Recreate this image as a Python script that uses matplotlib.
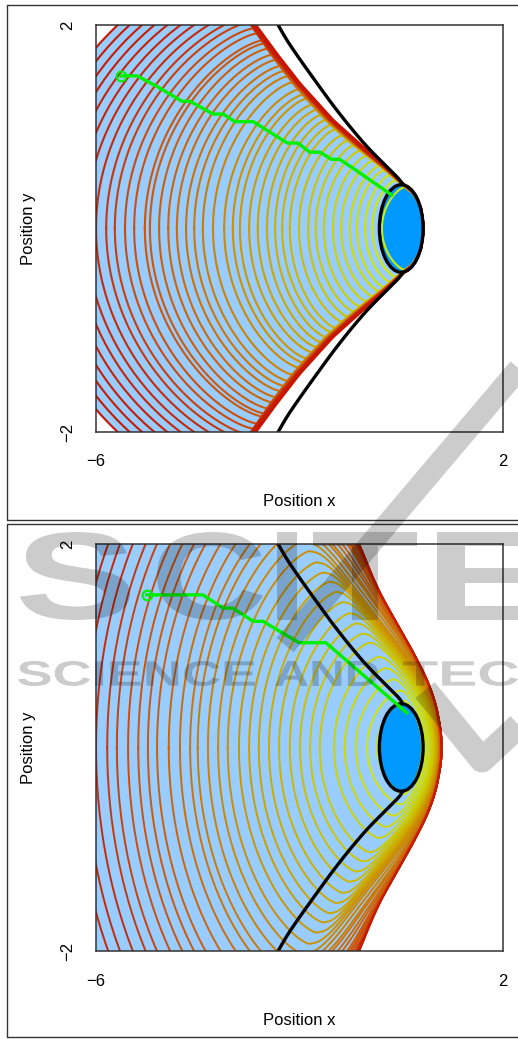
import numpy as np
import matplotlib
matplotlib.use("Agg")
import matplotlib.pyplot as plt
from matplotlib.colors import LinearSegmentedColormap
from matplotlib.patches import Ellipse, PathPatch
from matplotlib.textpath import TextPath
from matplotlib.font_manager import FontProperties
from matplotlib.transforms import Affine2D

plt.rcParams['font.family'] = ['Liberation Sans', 'DejaVu Sans']

# ---- Values (data units) ----
# Each level curve is described by: where it crosses y=0 on the left (x0),
# the height of its crest (yp) and, in the lower panel, crest x and right crossing.
# The stretch between those read points follows a fitted arc, not traced pixels.
TOP_X0 = [-7.38,-7.18,-6.98,-6.79,-6.59,-6.39,-6.20,-6.00,-5.80,-5.63,-5.43,-5.25,-5.04,-4.94,-4.76,-4.58,-4.41,-4.23,-4.07,-3.90,
          -3.70,-3.48,-3.31,-3.17,-2.99,-2.82,-2.64,-2.48,-2.34,-2.19,-2.01,-1.83,-1.68,-1.52,-1.34,-1.18,-1.01,-0.87,-0.71,-0.57,-0.38]
TOP_YP = [2.56,2.50,2.44,2.38,2.32,2.26,2.20,2.14,2.08,2.03,1.97,1.92,1.85,1.82,1.77,1.71,1.66,1.60,1.55,1.50,
          1.44,1.37,1.32,1.28,1.22,1.17,1.12,1.07,1.02,0.98,0.92,0.87,0.82,0.77,0.72,0.67,0.62,0.58,0.53,0.48,0.41]
TOP_ENV_Y = [0.00,0.20,0.35,0.43,0.60,0.77,1.07,1.43,1.72,2.00,2.50,2.60]
TOP_ENV_X = [0.45,0.39,0.26,0.07,-0.28,-0.67,-1.34,-1.99,-2.44,-2.84,-3.55,-3.70]

BOT_X0 = [-6.90,-6.67,-6.43,-6.22,-6.00,-5.78,-5.59,-5.37,-5.17,-4.98,-4.80,-4.57,-4.35,-4.15,-4.00,-3.80,
          -3.60,-3.41,-3.19,-2.99,-2.80,-2.60,-2.40,-2.19,-1.99,-1.79,-1.60,-1.32,-1.11,-0.89,-0.67,-0.47]
BOT_YP = [3.68,3.56,3.44,3.34,3.23,3.12,3.02,2.91,2.81,2.72,2.63,2.51,2.40,2.30,2.23,2.13,
          2.03,1.93,1.82,1.72,1.63,1.53,1.43,1.32,1.22,1.12,1.03,0.89,0.78,0.67,0.56,0.46]
BOT_XP = [-4.07,-3.92,-3.76,-3.63,-3.48,-3.34,-3.22,-3.08,-2.95,-2.82,-2.70,-2.56,-2.41,-2.28,-2.18,-2.05,
          -1.92,-1.80,-1.66,-1.53,-1.40,-1.27,-1.14,-1.01,-0.88,-0.75,-0.62,-0.44,-0.31,-0.16,-0.02,0.05]
BOT_XR = [0.82,0.82,0.82,0.82,0.82,0.82,0.82,0.82,0.81,0.81,0.81,0.80,0.80,0.79,0.79,0.78,
          0.78,0.77,0.76,0.75,0.74,0.73,0.72,0.71,0.70,0.68,0.66,0.64,0.61,0.57,0.53,0.47]
BOT_ENV_Y = [0.00,0.25,0.55,0.75,1.08,1.33,1.65,2.00,2.50,3.00,3.70]
BOT_ENV_X = [0.82,0.76,0.62,0.43,0.08,-0.22,-0.555,-0.81,-1.30,-1.80,-2.50]

BARRIER_Y = [0.43,0.575,0.80,1.00,1.21,1.43,1.66,1.85,2.00]
BARRIER_X = [0.07,-0.22,-0.67,-1.01,-1.34,-1.66,-1.99,-2.25,-2.42]

TOP_PATH_X = [-5.51,-5.19,-4.78,-4.31,-4.15,-3.70,-3.50,-3.27,-2.91,-2.24,-2.03,-1.80,-1.60,-1.37,-1.21,-0.955,-0.19]
TOP_PATH_Y = [1.50,1.50,1.39,1.25,1.25,1.125,1.125,1.05,1.05,0.84,0.84,0.75,0.75,0.68,0.68,0.595,0.33]
BOT_PATH_X = [-5.00,-3.90,-3.50,-3.31,-2.91,-2.72,-2.01,-1.48,0.11]
BOT_PATH_Y = [1.50,1.50,1.37,1.37,1.24,1.24,1.03,1.03,0.34]

COLOR_AT_X0 = [-7.4,-6.0,-5.4,-4.6,-3.2,-1.7,-0.4]
COLOR_RGB = ['#c81400','#c42c08','#cc4c0a','#cc640a','#cc9600','#ccc800','#d2ec00']

LIGHT_BLUE = '#99ccff'
TARGET_BLUE = '#0099ff'
GREEN = '#00ee00'
TARGET_R = 0.43
XLIM = (-6, 2)
YLIM = (-2, 2)

W, H = 518, 1039
FS = 12
fig = plt.figure(figsize=(W/100, H/100), dpi=100)

span = COLOR_AT_X0[-1]-COLOR_AT_X0[0]
cmap = LinearSegmentedColormap.from_list('lv', [((v-COLOR_AT_X0[0])/span, c) for v, c in zip(COLOR_AT_X0, COLOR_RGB)])
def col(x0):
    return cmap(np.clip((x0-COLOR_AT_X0[0])/span, 0, 1))

def smooth_env(ys, xs, win):
    g = np.linspace(0, ys[-1], 801)
    v = np.interp(g, ys, xs)
    m = int(win/(g[1]-g[0]))
    pad = np.r_[v[m:0:-1], v, 2*v[-1]-v[-2:-m-2:-1]]
    s = np.convolve(pad, np.ones(2*m+1)/(2*m+1), mode='same')[m:m+len(v)]
    return lambda y: np.interp(y, g, s)

def closed(x0, xp, yp, right, k, p=1.4):
    t = np.linspace(0, np.pi/2, 70)
    xl, yl = xp-(xp-x0)*np.cos(t)**p, yp*np.sin(t)
    yr = np.linspace(yp, 0, 120)
    xr = xp+(right(yr)-xp)*np.sqrt(np.clip(1-(yr/yp)**k, 0, 1))
    x = np.r_[xl, xr]; y = np.r_[yl, yr]
    return np.r_[x, x[::-1]], np.r_[y, -y[::-1]]

def base(top_px):
    ax = fig.add_axes([96/W, 1-(top_px+407)/H, 407/W, 407/H])
    ax.set_xlim(*XLIM); ax.set_ylim(*YLIM)
    ax.set_xticks([]); ax.set_yticks([])
    for s in ax.spines.values():
        s.set_color('#333333'); s.set_linewidth(1.1); s.set_zorder(20)
    ax.set_facecolor('white')
    ax.text(-6, -2-30/101.75, '\u22126', ha='center', va='center', fontsize=FS)
    ax.text(2, -2-30/101.75, '2', ha='center', va='center', fontsize=FS)
    ax.text(-2, -2-69.5/101.75, 'Position x', ha='center', va='center', fontsize=FS)
    ax.text(-6-28/50.875, 2, '2', rotation=90, ha='center', va='center', fontsize=FS)
    ax.text(-6-28/50.875, -2, '\u22122', rotation=90, ha='center', va='center', fontsize=FS)
    ax.text(-6-67/50.875, 0, 'Position y', rotation=90, ha='center', va='center', fontsize=FS)
    return ax

def finish(ax, px, py):
    ax.add_patch(Ellipse((0, 0), 2*TARGET_R, 2*TARGET_R, fc='none', ec='black', lw=2.4, zorder=9))
    bf = smooth_env(np.array(BARRIER_Y), np.array(BARRIER_X), 0.08)
    by = np.linspace(BARRIER_Y[0], BARRIER_Y[-1], 120)
    bx = bf(by)
    ax.plot(bx, by, color='black', lw=2.4, zorder=8, solid_capstyle='round')
    ax.plot(bx, -by, color='black', lw=2.4, zorder=8, solid_capstyle='round')
    ax.plot(px, py, color=GREEN, lw=2.4, zorder=10)
    ax.plot(px[0], py[0], 'o', mfc='none', mec=GREEN, mew=1.5, ms=7, zorder=10)

# ---- upper panel ----
ax1 = base(25)
top_env = smooth_env(np.array(TOP_ENV_Y), np.array(TOP_ENV_X), 0.03)
n = len(TOP_X0)
curves = []
for i, (x0, yp) in enumerate(zip(TOP_X0, TOP_YP)):
    off = 0.16*(i/(n-1))**0.5
    env = lambda y, off=off: top_env(y)-off*np.clip((y-0.25)/0.6, 0, 1)
    xp = float(env(yp))
    curves.append((x0, *closed(x0, xp, yp, env, 14)))
ax1.fill(curves[0][1], curves[0][2], color=LIGHT_BLUE, zorder=1, lw=0)
ax1.add_patch(Ellipse((0, 0), 2*TARGET_R, 2*TARGET_R, fc=TARGET_BLUE, ec='none', zorder=2))
for x0, x, y in curves[::-1]:
    ax1.plot(x, y, color=col(x0), lw=1.5, zorder=3)
finish(ax1, TOP_PATH_X, TOP_PATH_Y)

# ---- lower panel ----
ax2 = base(544)
bot_env = smooth_env(np.array(BOT_ENV_Y), np.array(BOT_ENV_X), 0.22)
curves = []
for x0, yp, xp, xr in zip(BOT_X0, BOT_YP, BOT_XP, BOT_XR):
    env = lambda y, d=0.82-xr: bot_env(y)-d*1.1
    k = 2.6+4.4*max(yp-2.0, 0)
    curves.append((x0, *closed(x0, xp, yp, env, k)))
ax2.fill(curves[0][1], curves[0][2], color=LIGHT_BLUE, zorder=1, lw=0)
ax2.add_patch(Ellipse((0, 0), 2*TARGET_R, 2*TARGET_R, fc=TARGET_BLUE, ec='none', zorder=2))
for x0, x, y in curves[::-1]:
    ax2.plot(x, y, color=col(x0), lw=1.4, zorder=3)
finish(ax2, BOT_PATH_X, BOT_PATH_Y)

# ---- panel frames and watermark in pixel coordinates ----
ov = fig.add_axes([0, 0, 1, 1], zorder=50)
ov.set_xlim(0, W); ov.set_ylim(H, 0); ov.axis('off'); ov.patch.set_alpha(0)
for (y0, y1) in [(5, 520), (524, 1037)]:
    ov.plot([W, 6.5, 6.5, W], [y0, y0, y1, y1], color='#333333', lw=1.0)

def wm(txt, x0, x1, y0, y1, weight='bold'):
    tp = TextPath((0, 0), txt, size=100, prop=FontProperties(family='Liberation Sans', weight=weight))
    bb = tp.get_extents()
    tr = Affine2D().translate(-bb.x0, -bb.y0).scale((x1-x0)/bb.width, -(y1-y0)/bb.height).translate(x0, y1)
    ov.add_patch(PathPatch(tr.transform_path(tp), fc='black', ec='none', alpha=0.2, zorder=60))

for t, a, b in [('S', 20, 130), ('C', 157, 263), ('I', 277, 297), ('T', 313, 417), ('E', 437, 545)]:
    wm(t, a, b, 532, 620)
wm('SCIENCE', 18, 255, 661, 686)
wm('AND', 275, 378, 661, 686)
wm('TEC', 403, 518, 661, 686)
ov.plot([528, 285], [358, 645], color='black', alpha=0.2, lw=16, solid_capstyle='butt', zorder=60)
ov.plot([425, 482, 530], [690, 760, 715], color='black', alpha=0.2, lw=18, solid_joinstyle='round', solid_capstyle='butt', zorder=60)

fig.savefig('out.png', dpi=100)
